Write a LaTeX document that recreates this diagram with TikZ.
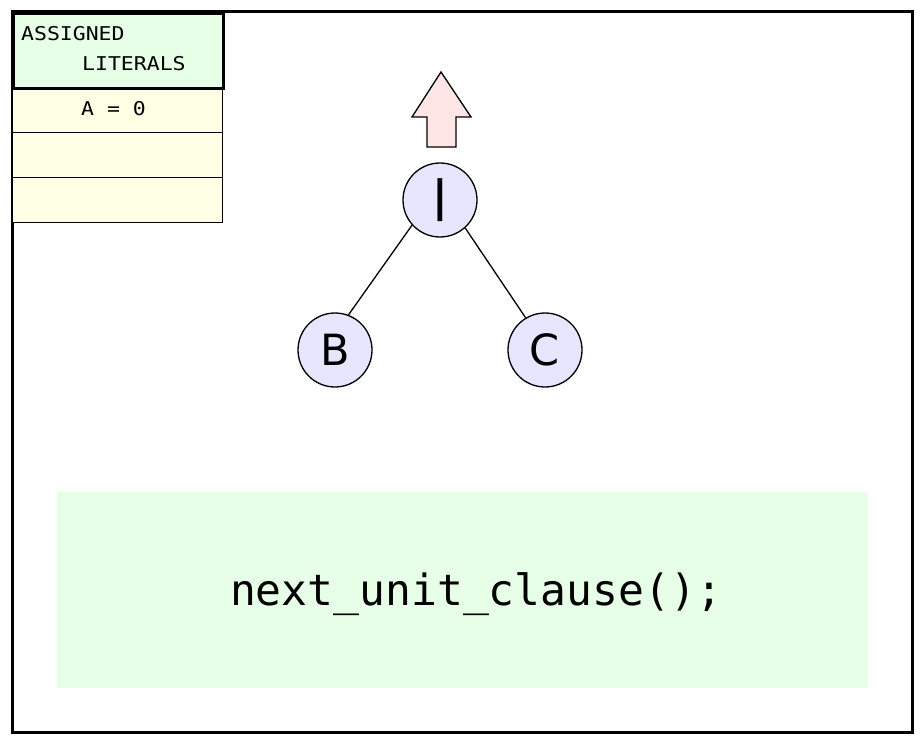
\documentclass[tikz,border=0pt]{standalone}
\usepackage{fontspec}
\newfontfamily\codefont{DejaVu Sans Mono}
\newfontfamily\labelfont{DejaVu Sans}
\definecolor{headgreen}{HTML}{E6FFE6}
\definecolor{rowyellow}{HTML}{FFFFE6}
\definecolor{nodeblue}{HTML}{E6E6FF}
\definecolor{arrowpink}{HTML}{FFE6E6}
\tikzset{
  tablecell/.style={draw=black, line width=1.3pt, fill=rowyellow, minimum width=210pt, minimum height=45pt, inner sep=0pt, anchor=north west},
  tablehead/.style={draw=black, line width=2.6pt, fill=headgreen, minimum width=210pt, minimum height=75pt, inner sep=0pt, anchor=north west},
  tabletext/.style={font=\codefont\fontsize{19}{22}\selectfont, inner sep=0pt},
  treenode/.style={circle, draw=black, line width=1.3pt, fill=nodeblue, minimum size=74pt, inner sep=0pt, font=\labelfont\fontsize{43}{46}\selectfont},
  edge/.style={line width=1.3pt}
}
\begin{document}
\begin{tikzpicture}[x=1pt, y=-1pt]
  \useasboundingbox (0,0) rectangle (921,741);
  % outer frame
  \draw[line width=3pt, fill=white] (12,12) rectangle (912,732);

  % table of assigned literals
  \node[tablecell] (row1) at (12,87) {};
  \node[tablecell] (row2) at (12,132) {};
  \node[tablecell] (row3) at (12,177) {};
  \node[tablehead] (head) at (12,12) {};
  \node[tabletext, anchor=base west] (h1) at (21,41) {\scalebox{1.13}[1]{ASSIGNED}};
  \node[tabletext, anchor=base west] (h2) at (82,71) {\scalebox{1.13}[1]{LITERALS}};
  \node[tabletext, anchor=base west] (r1) at (81,116) {\scalebox{1.13}[1]{A = 0}};

  % upward arrow
  \draw[line width=1.3pt, fill=arrowpink, line join=miter]
    (441,72) -- (471,117) -- (456,117) -- (456,147) -- (427,147) -- (427,117) -- (412,117) -- cycle;

  % tree
  \node[treenode] (bar) at (440,200) {\textbf{|}};
  \node[treenode] (b) at (335,350) {B};
  \node[treenode] (c) at (545,350) {C};
  \draw[edge] (bar.222) -- (b.69);
  \draw[edge] (bar.312) -- (c.121);

  % code box
  \fill[headgreen] (57,492) rectangle (868,688);
  \node[font=\codefont\fontsize{43}{48}\selectfont, inner sep=0pt, anchor=base] (code) at (476,605) {next\_unit\_clause();};
\end{tikzpicture}
\end{document}
